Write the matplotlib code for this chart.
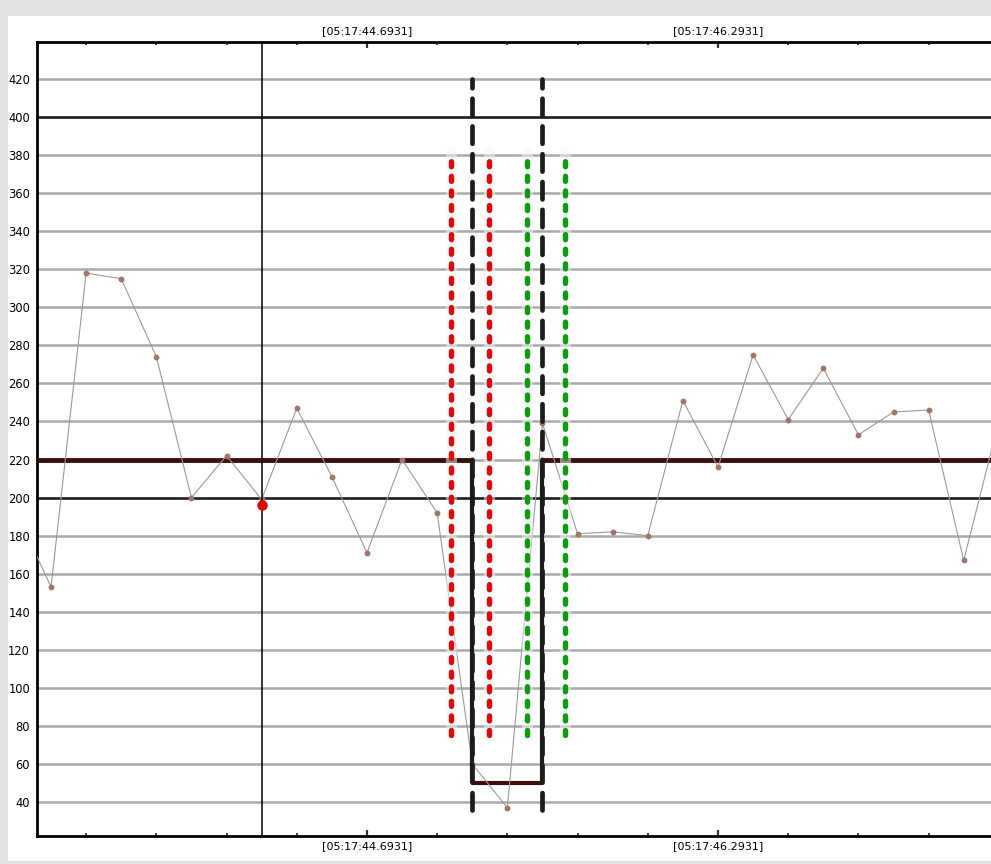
import matplotlib
matplotlib.use("Agg")
import matplotlib.pyplot as plt
from matplotlib.patches import Rectangle

plt.rcParams['lines.scale_dashes'] = False
plt.rcParams['font.family'] = ['DejaVu Sans']

# ---- data ----
sample_idx = list(range(29))
values = [193, 153, 318, 315, 274, 200, 222, 199, 247, 211, 171, 220, 192, 60, 37,
          239, 181, 182, 180, 251, 216, 275, 241, 268, 233, 245, 246, 167, 240]
y_ticks = list(range(40, 421, 20))
strong_levels = [200, 400]
major_ticks = [10, 20]
major_labels = ["[05:17:44.6931]", "[05:17:46.2931]"]
minor_ticks = [2, 4, 6, 8, 12, 14, 16, 18, 22, 24, 26]

threshold = 220
dip_level = 50
event_bounds = [13, 15]
event_dash_range = [36, 420]
red_marks = [12.4, 13.48]
green_marks = [14.57, 15.64]
mark_range = [75, 381]
cursor_x = 7
cursor_y = 196

x_limits = [0.6, 27.92]
y_limits = [22.3, 439.6]

# ---- figure ----
W, H = 991, 864
fig = plt.figure(figsize=(W / 100, H / 100), dpi=100)
fig.patch.set_facecolor('#e3e3e3')
fig.patches.append(Rectangle((8 / W, 3 / H), (W - 8) / W, (H - 3 - 15.5) / H,
                             transform=fig.transFigure, facecolor='white',
                             edgecolor='none', zorder=-5))

ax = fig.add_axes([37 / W, (H - 835.7) / H, (996 - 37) / W, (835.7 - 41.7) / H])
ax.set_zorder(1)
ax.set_facecolor('white')
ax.set_xlim(*x_limits)
ax.set_ylim(*y_limits)

# grid
ax.set_yticks(y_ticks)
ax.yaxis.grid(True, color='#a9a9a9', linewidth=1.8, zorder=1)
ax.set_axisbelow(True)
for lv in strong_levels:
    ax.axhline(lv, color='#1e1e1e', linewidth=1.8, zorder=1.5)

# threshold step (horizontal maroon parts)
ax.hlines(threshold, x_limits[0], event_bounds[0], color='#3e0f0f', linewidth=3.5, zorder=3)
ax.hlines(threshold, event_bounds[1], x_limits[1] + 1, color='#3e0f0f', linewidth=3.5, zorder=3)
ax.hlines(dip_level, event_bounds[0], event_bounds[1], color='#3e0f0f', linewidth=3.0, zorder=3)

# data line
ax.plot(sample_idx, values, color='#9a9a9a', linewidth=0.8, zorder=4,
        marker='o', markersize=3.2, markerfacecolor='#a0766a', markeredgecolor='#a0766a')

# dotted marker lines with faint halo
for xs, col in [(red_marks, '#dd0a0a'), (green_marks, '#109a10')]:
    for x in xs:
        ax.plot([x, x], mark_range, color='#f2f6f9', linewidth=8, alpha=0.5,
                solid_capstyle='round', zorder=5)
        ln, = ax.plot([x, x], mark_range, color=col, linewidth=3.9,
                      dash_capstyle='round', zorder=6)
        ln.set_dashes((3.6, 6.9))

# dashed black event lines
for x in event_bounds:
    ln, = ax.plot([x, x], event_dash_range, color='#1c1c1c', linewidth=3.4,
                  dash_capstyle='round', zorder=7)
    ln.set_dashes((12.5, 7.5))
# solid black verticals of the step
ax.vlines(event_bounds, dip_level, threshold, color='#1c1c1c', linewidth=3.0, zorder=7)

# cursor
ax.axvline(cursor_x, color='black', linewidth=1.1, zorder=8)
ax.plot([cursor_x], [cursor_y], 'o', color='#e00000', markersize=6.5, zorder=9)

# spines
for s in ['left', 'top', 'bottom']:
    ax.spines[s].set_linewidth(2.0)
    ax.spines[s].set_color('black')
ax.spines['right'].set_visible(False)

# ticks
ax.set_xticks(major_ticks)
ax.set_xticklabels(major_labels)
ax.set_xticks(minor_ticks, minor=True)
ax.tick_params(axis='x', which='both', direction='in', top=True, bottom=True,
               labeltop=True, labelbottom=True, color='#333333')
ax.tick_params(axis='x', which='major', length=4.5, width=1.6, labelsize=8, pad=4)
ax.tick_params(axis='x', which='minor', length=2.5, width=1.3)
ax.tick_params(axis='y', length=0, labelsize=8.3, pad=5)

fig.savefig('out.png', dpi=100, facecolor=fig.get_facecolor())
